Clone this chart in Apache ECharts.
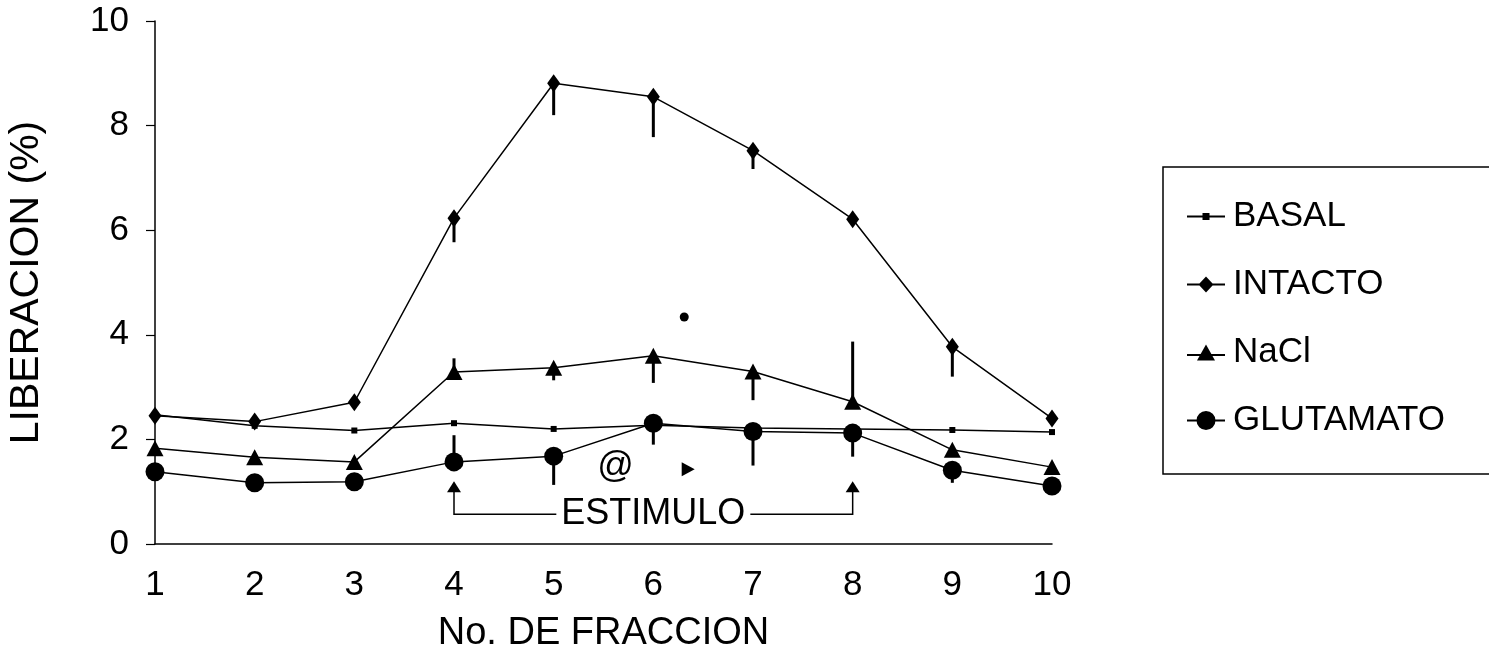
<!DOCTYPE html>
<html>
<head>
<meta charset="utf-8">
<script src="https://cdn.jsdelivr.net/npm/echarts@6/dist/echarts.min.js"></script>
<style>
  html, body { margin: 0; padding: 0; background: #fff; }
  #chart { width: 1489px; height: 655px; }
</style>
</head>
<body>
<div id="chart"></div>
<script>
// ---- data ----
const categories = [1, 2, 3, 4, 5, 6, 7, 8, 9, 10];
const basal     = [2.47, 2.26, 2.17, 2.31, 2.20, 2.27, 2.22, 2.20, 2.18, 2.14];
const intacto   = [2.45, 2.34, 2.71, 6.23, 8.81, 8.55, 7.52, 6.21, 3.77, 2.40];
const nacl      = [1.83, 1.66, 1.57, 3.29, 3.37, 3.60, 3.30, 2.72, 1.80, 1.47];
const glutamato = [1.38, 1.17, 1.19, 1.57, 1.68, 2.31, 2.15, 2.12, 1.41, 1.11];

// error bar end values (null = no bar visible)
const intactoErr   = [null, null, null, 5.77, 8.20, 7.78, 7.17, null, 3.20, null];
const naclErr      = [null, null, null, 3.55, 3.13, 3.08, 2.75, 3.87, null, null];
const glutamatoErr = [null, null, null, 2.08, 1.13, 1.90, 1.50, 1.67, 1.17, null];

// stimulus bracket (fractions 4 to 8)
const stimulusStart = 4;
const stimulusEnd = 8;
const stimulusArrowTip = 1.2;
const stimulusBracket = 0.57;
const stimulusLabel = 'ESTIMULO';

// stray marks on the figure
const strayDot = [[6.31, 4.34]];
const atSign = [[5.62, 1.47, '@']];
const pointer = [[6.35, 1.43]];

const seriesNames = ['BASAL', 'INTACTO', 'NaCl', 'GLUTAMATO'];
const xTitle = 'No. DE FRACCION';
const yTitle = 'LIBERACION (%)';

// ---- chart ----
const FONT = "'Liberation Sans', Arial, Helvetica, sans-serif";
const BLACK = '#000';

function pairs(vals) { return categories.map((c, i) => [c, vals[i]]); }
function errPairs(vals, errs) {
  return categories.map((c, i) => [c, vals[i], errs[i]]).filter(d => d[2] != null);
}

function errorSeries(name, vals, errs) {
  return {
    type: 'custom',
    name: name + '_err',
    data: errPairs(vals, errs),
    encode: { x: 0, y: 1 },
    z: 3,
    silent: true,
    renderItem: function (params, api) {
      const p1 = api.coord([api.value(0), api.value(1)]);
      const p2 = api.coord([api.value(0), api.value(2)]);
      return {
        type: 'line',
        shape: { x1: p1[0], y1: p1[1], x2: p2[0], y2: p2[1] },
        style: { stroke: BLACK, lineWidth: 3 }
      };
    }
  };
}

function lineSeries(name, vals, symbol, size) {
  return {
    type: 'line',
    name: name,
    data: pairs(vals),
    symbol: symbol,
    symbolSize: size,
    showAllSymbol: true,
    z: 4,
    itemStyle: { color: BLACK, borderWidth: 0, opacity: 1 },
    lineStyle: { color: BLACK, width: 1.5 },
    emphasis: { disabled: true }
  };
}

const chart = echarts.init(document.getElementById('chart'), null, { renderer: 'canvas' });

const option = {
  animation: false,
  backgroundColor: '#fff',
  textStyle: { fontFamily: FONT, color: BLACK },
  grid: { left: 155, right: 437, top: 21, bottom: 111, containLabel: false, outerBoundsMode: 'none' },
  xAxis: {
    type: 'value',
    min: 1, max: 10, interval: 1,
    name: xTitle,
    nameLocation: 'middle',
    nameGap: 71,
    nameTextStyle: { fontFamily: FONT, fontSize: 38, color: BLACK },
    axisLine: { show: true, onZero: false, lineStyle: { color: BLACK, width: 1.5 } },
    axisTick: { show: false },
    splitLine: { show: false },
    axisLabel: { fontFamily: FONT, fontSize: 35, color: BLACK, margin: 24 }
  },
  yAxis: {
    type: 'value',
    min: 0, max: 10, interval: 2,
    name: yTitle,
    nameLocation: 'middle',
    nameGap: 108,
    nameTextStyle: { fontFamily: FONT, fontSize: 41, color: BLACK },
    axisLine: { show: true, lineStyle: { color: BLACK, width: 1.5 } },
    axisTick: { show: true, length: 9, lineStyle: { color: BLACK, width: 1.2 } },
    splitLine: { show: false },
    axisLabel: { fontFamily: FONT, fontSize: 35, color: BLACK, margin: 26 }
  },
  legend: {
    orient: 'vertical',
    left: 1163,
    top: 167,
    padding: [32, 400, 36, 24],
    itemWidth: 38,
    itemHeight: 22,
    itemGap: 33,
    borderColor: BLACK,
    borderWidth: 1.5,
    selectedMode: false,
    itemStyle: { borderWidth: 0 },
    textStyle: { fontFamily: FONT, fontSize: 35, lineHeight: 35, color: BLACK, padding: [0, 0, 0, 3] },
    data: [
      { name: seriesNames[0], icon: 'path://M0,2.5H38V4.5H0Z M15.5,0H22.5V7H15.5Z' },
      { name: seriesNames[1], icon: 'path://M0,7H38V9H0Z M19,0L26.5,8L19,16L11.5,8Z' },
      { name: seriesNames[2], icon: 'path://M0,9.5H38V11.5H0Z M19,0L28,16H10Z' },
      { name: seriesNames[3], icon: 'path://M0,8.5H38V10.5H0Z M9.5,9.5A9.5,9.5 0 1,1 28.5,9.5A9.5,9.5 0 1,1 9.5,9.5Z' }
    ]
  },
  series: [
    errorSeries(seriesNames[1], intacto, intactoErr),
    errorSeries(seriesNames[2], nacl, naclErr),
    errorSeries(seriesNames[3], glutamato, glutamatoErr),
    lineSeries(seriesNames[0], basal, 'rect', 6),
    lineSeries(seriesNames[1], intacto, 'diamond', [13, 18]),
    lineSeries(seriesNames[2], nacl, 'triangle', [17, 16]),
    lineSeries(seriesNames[3], glutamato, 'circle', 19),
    {
      type: 'custom',
      name: 'stimulus',
      data: [[stimulusStart, stimulusEnd, stimulusArrowTip, stimulusBracket]],
      encode: { x: [0, 1], y: [2, 3] },
      z: 5,
      silent: true,
      renderItem: function (params, api) {
        const a = api.coord([api.value(0), api.value(2)]);
        const b = api.coord([api.value(0), api.value(3)]);
        const c = api.coord([api.value(1), api.value(3)]);
        const d = api.coord([api.value(1), api.value(2)]);
        const midX = (b[0] + c[0]) / 2;
        const head = function (p) {
          return {
            type: 'polygon',
            shape: { points: [[p[0], p[1]], [p[0] - 7, p[1] + 11], [p[0] + 7, p[1] + 11]] },
            style: { fill: BLACK }
          };
        };
        return {
          type: 'group',
          children: [
            {
              type: 'polyline',
              shape: { points: [[a[0], a[1] + 8], b, c, [d[0], d[1] + 8]] },
              style: { stroke: BLACK, lineWidth: 1.5, fill: null }
            },
            head(a),
            head(d),
            {
              type: 'text',
              x: midX, y: b[1],
              style: {
                text: stimulusLabel,
                font: '36px ' + FONT,
                fill: BLACK,
                align: 'center',
                verticalAlign: 'middle',
                backgroundColor: '#fff',
                padding: [0, 5]
              }
            }
          ]
        };
      }
    },
    {
      type: 'scatter',
      name: 'dot',
      data: strayDot,
      symbol: 'circle',
      symbolSize: 9,
      itemStyle: { color: BLACK, opacity: 1 },
      silent: true,
      z: 5
    },
    {
      type: 'scatter',
      name: 'pointer',
      data: pointer,
      symbol: 'triangle',
      symbolRotate: -90,
      symbolSize: [14, 13],
      itemStyle: { color: BLACK, opacity: 1 },
      silent: true,
      z: 5
    },
    {
      type: 'custom',
      name: 'at',
      data: atSign,
      encode: { x: 0, y: 1 },
      silent: true,
      z: 5,
      renderItem: function (params, api) {
        const p = api.coord([api.value(0), api.value(1)]);
        return {
          type: 'text',
          x: p[0], y: p[1],
          style: {
            text: atSign[params.dataIndex][2],
            font: '36px ' + FONT,
            fill: BLACK,
            align: 'center',
            verticalAlign: 'middle'
          }
        };
      }
    }
  ]
};

chart.setOption(option);
</script>
</body>
</html>
